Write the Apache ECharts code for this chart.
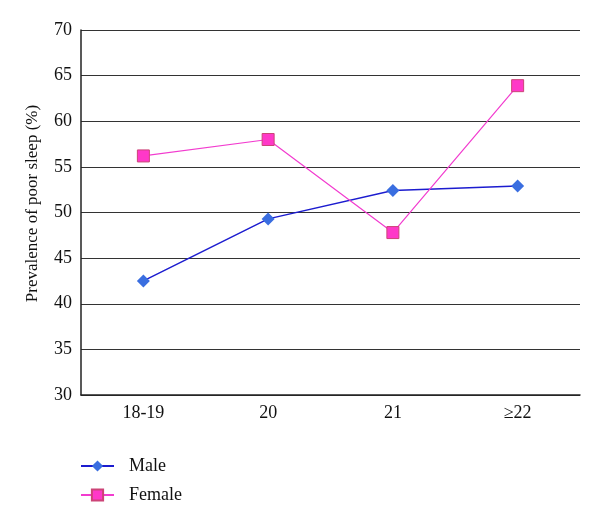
<!DOCTYPE html>
<html lang="en">
<head>
  <meta charset="UTF-8">
  <title>Poor sleep</title>
  <script src="https://cdn.jsdelivr.net/npm/echarts@6/dist/echarts.min.js"></script>
  <style>
    html, body { margin:0; padding:0; background:#fff; }
    #chart { width:600px; height:519px; }
  </style>
</head>
<body>
<div id="chart"></div>
<script>
  var categories = ['18-19', '20', '21', '≥22'];
  var male = [42.5, 49.3, 52.4, 52.9];
  var female = [56.2, 58.0, 47.8, 63.9];

  var font = 'Liberation Serif';
  var chart = echarts.init(document.getElementById('chart'));

  chart.setOption({
    backgroundColor:'#fff',
    animation:false,
    textStyle:{fontFamily:font},
    grid:{left:81, right:20, top:30, bottom:124},
    legend:{
      orient:'vertical', left:75, top:452, itemWidth:33, itemHeight:14, itemGap:11,
      textStyle:{fontFamily:font, fontSize:18, color:'#111', padding:[0,0,0,10]},
      data:['Male','Female']
    },
    xAxis:{
      type:'category', data:categories, boundaryGap:true,
      axisLine:{lineStyle:{color:'#222', width:1.5}},
      axisTick:{show:false},
      axisLabel:{fontFamily:font, fontSize:18, color:'#111', margin:9}
    },
    yAxis:{
      type:'value', min:30, max:70, interval:5,
      name:'Prevalence of poor sleep (%)', nameLocation:'middle', nameGap:40,
      nameTextStyle:{fontFamily:font, fontSize:17, color:'#111', padding:[0,0,0,18]},
      axisLine:{show:true, lineStyle:{color:'#222', width:1.5}},
      axisTick:{show:false},
      axisLabel:{fontFamily:font, fontSize:18, color:'#111', margin:9},
      splitLine:{lineStyle:{color:'#333', width:1.2}}
    },
    series:[
      {
        name:'Male', type:'line', data:male,
        symbol:'diamond', symbolSize:13,
        lineStyle:{color:'#1c1ccf', width:1.5},
        itemStyle:{color:'#3a6ee0', borderColor:'#3a6ee0', borderWidth:0}
      },
      {
        name:'Female', type:'line', data:female,
        symbol:'rect', symbolSize:12,
        lineStyle:{color:'#f23ccf', width:1.2},
        itemStyle:{color:'#ff38c8', borderColor:'#cc4477', borderWidth:1}
      }
    ]
  });
</script>
</body>
</html>
